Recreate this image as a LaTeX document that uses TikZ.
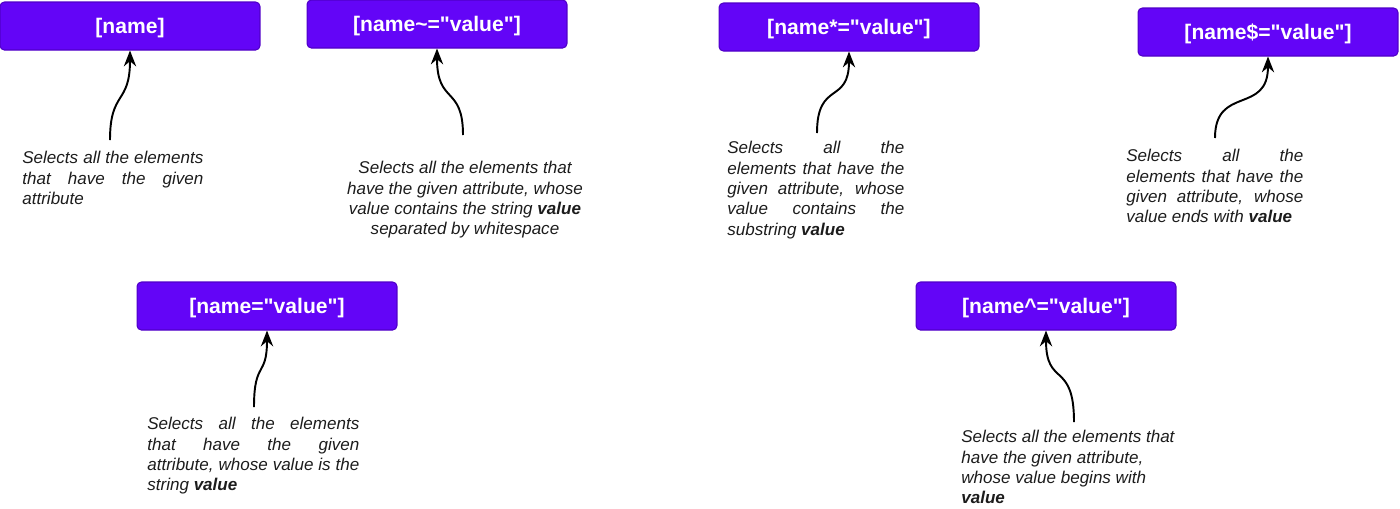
\documentclass[tikz,border=0pt]{standalone}
\usepackage{fontspec}
\setmainfont{Liberation Sans}[Ligatures=TeXOff]
\usepackage{tikz}
\usetikzlibrary{arrows.meta,positioning,calc}
\definecolor{selfill}{HTML}{6305F7}
\definecolor{seldraw}{HTML}{5000C8}
\definecolor{notetext}{HTML}{1C1C1C}
\tikzset{
  selector/.style={draw=seldraw, line width=0.6pt, fill=selfill, rounded corners=2.5pt, rectangle,
    minimum width=5.2cm, minimum height=0.96cm, inner sep=0pt, text=white, text depth=0pt,
    font=\fontsize{12}{14}\selectfont\bfseries},
  note/.style={inner sep=0pt, text=notetext, font=\fontsize{9.7}{11.6}\selectfont\itshape},
  pointer/.style={-{Stealth[length=9pt, width=7pt]}, line width=1.1pt, draw=black}
}
\begin{document}
\begin{tikzpicture}[x=0.02cm, y=-0.02cm]
  \useasboundingbox (0,0) rectangle (1400,508);
  % selector boxes
  \node[selector] (name) at (130,26) {[name]};
  \node[selector] (tilde) at (437,24) {[name\textasciitilde="value"]};
  \node[selector] (star) at (849,27) {[name*="value"]};
  \node[selector] (dollar) at (1268,32) {[name\$="value"]};
  \node[selector] (equal) at (267,306) {[name="value"]};
  \node[selector] (caret) at (1046,306) {[name\textasciicircum="value"]};

  % descriptions
  \node[note, anchor=north west, text width=3.62cm, align=justify] (dname) at (22,151)
    {Selects all the elements\linebreak that have the given\linebreak attribute};
  \node[note, anchor=north, align=center] (dtilde) at (465,161)
    {Selects all the elements that\\ have the given attribute, whose\\ value contains the string \textbf{value}\\ separated by whitespace};
  \node[note, anchor=north west, text width=3.54cm, align=justify] (dstar) at (727,141)
    {Selects all the\linebreak elements that have the\linebreak given attribute, whose\linebreak value contains the\linebreak substring \textbf{value}};
  \node[note, anchor=north west, text width=3.54cm, align=justify] (ddollar) at (1126,149)
    {Selects all the\linebreak elements that have the\linebreak given attribute, whose\linebreak value ends with \textbf{value}};
  \node[note, anchor=north west, text width=4.24cm, align=justify] (dequal) at (147,417)
    {Selects all the elements\linebreak that have the given\linebreak attribute, whose value is the\linebreak string \textbf{value}};
  \node[note, anchor=north west, align=left] (dcaret) at (961,430)
    {Selects all the elements that\\ have the given attribute,\\ whose value begins with\\ \textbf{value}};

  % pointers
  \coordinate (pname) at (110,140);
  \coordinate (ptilde) at (463,135);
  \coordinate (pstar) at (817,133);
  \coordinate (pdollar) at (1215,138);
  \coordinate (pequal) at (254,407);
  \coordinate (pcaret) at (1074,422);
  \draw[pointer] (pname) .. controls (110,90) and (130,105) .. (name.south);
  \draw[pointer] (ptilde) .. controls (463,85) and (437,105) .. (tilde.south);
  \draw[pointer] (pstar) .. controls (817,80) and (849,105) .. (star.south);
  \draw[pointer] (pdollar) .. controls (1215,85) and (1268,115) .. (dollar.south);
  \draw[pointer] (pequal) .. controls (254,360) and (267,378) .. (equal.south);
  \draw[pointer] (pcaret) .. controls (1074,360) and (1046,388) .. (caret.south);
\end{tikzpicture}
\end{document}
